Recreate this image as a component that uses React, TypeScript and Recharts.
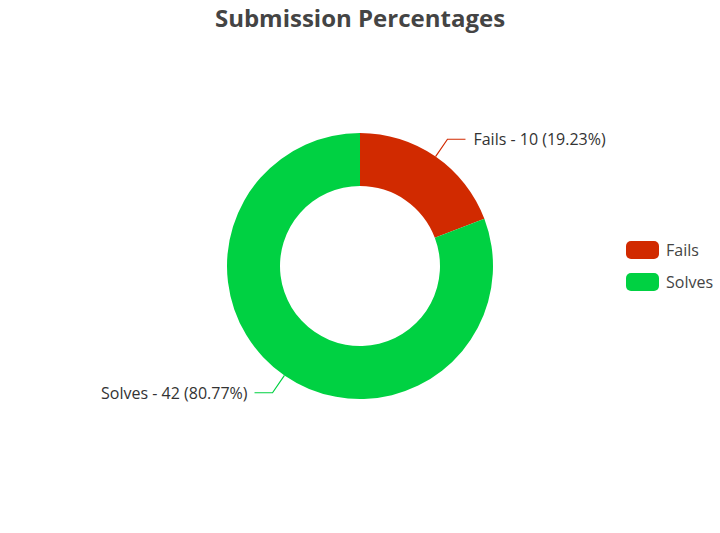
import React from 'react';
import { PieChart, Pie, Cell, Legend } from 'recharts';

const categories = ['Fails', 'Solves'];
const counts = [10, 42];
const colors = ['#d12a00', '#00d142'];

const data = categories.map((name, i) => ({ name, value: counts[i] }));
const total = counts.reduce((a, b) => a + b, 0);

const RAD = Math.PI / 180;

// label with a short elbow line, like the original
const renderLabel = (props: any) => {
  const { cx, cy, midAngle, outerRadius, name, value, index } = props;
  const cos = Math.cos(-midAngle * RAD);
  const sin = Math.sin(-midAngle * RAD);
  const sx = cx + outerRadius * cos;
  const sy = cy + outerRadius * sin;
  const mx = cx + (outerRadius + 21) * cos;
  const my = cy + (outerRadius + 21) * sin;
  const right = cos >= 0;
  const ex = mx + (right ? 18 : -18);
  const pct = ((value / total) * 100).toFixed(2);
  return (
    <g>
      <polyline
        points={`${sx},${sy} ${mx},${my} ${ex},${my}`}
        fill="none"
        stroke={colors[index]}
        strokeWidth={1.2}
      />
      <text
        x={ex + (right ? 8 : -7)}
        y={my}
        textAnchor={right ? 'start' : 'end'}
        dominantBaseline="central"
        fill="#333"
        fontSize={16}
      >
        {`${name} - ${value} (${pct}%)`}
      </text>
    </g>
  );
};

const LegendContent = () => (
  <div>
    {categories.map((c, i) => (
      <div key={c} style={{ display: 'flex', alignItems: 'center', height: 32 }}>
        <div style={{ width: 33, height: 18, borderRadius: 5, background: colors[i], marginRight: 7 }} />
        <span style={{ fontSize: 16, color: '#444' }}>{c}</span>
      </div>
    ))}
  </div>
);

export default function App() {
  return (
    <div style={{ position: 'absolute', left: 0, top: 0, width: 720, height: 533, background: '#fff', fontFamily: '"Open Sans", sans-serif' }}>
      <div style={{ position: 'absolute', top: 1, left: 0, width: 720, textAlign: 'center', fontSize: 24, fontWeight: 700, color: '#444' }}>
        Submission Percentages
      </div>
      <PieChart width={720} height={533} style={{ position: 'absolute', left: 0, top: 0 }}>
        <Pie
          data={data}
          dataKey="value"
          nameKey="name"
          cx={355}
          cy={261}
          innerRadius={80}
          outerRadius={133}
          startAngle={90}
          endAngle={-270}
          stroke="none"
          label={renderLabel}
          labelLine={false}
          isAnimationActive={false}
        >
          {data.map((d, i) => (
            <Cell key={d.name} fill={colors[i]} />
          ))}
        </Pie>
        <Legend
          layout="vertical"
          align="right"
          verticalAlign="middle"
          content={<LegendContent />}
          wrapperStyle={{ left: 626, top: 234, width: 94 }}
        />
      </PieChart>
    </div>
  );
}
